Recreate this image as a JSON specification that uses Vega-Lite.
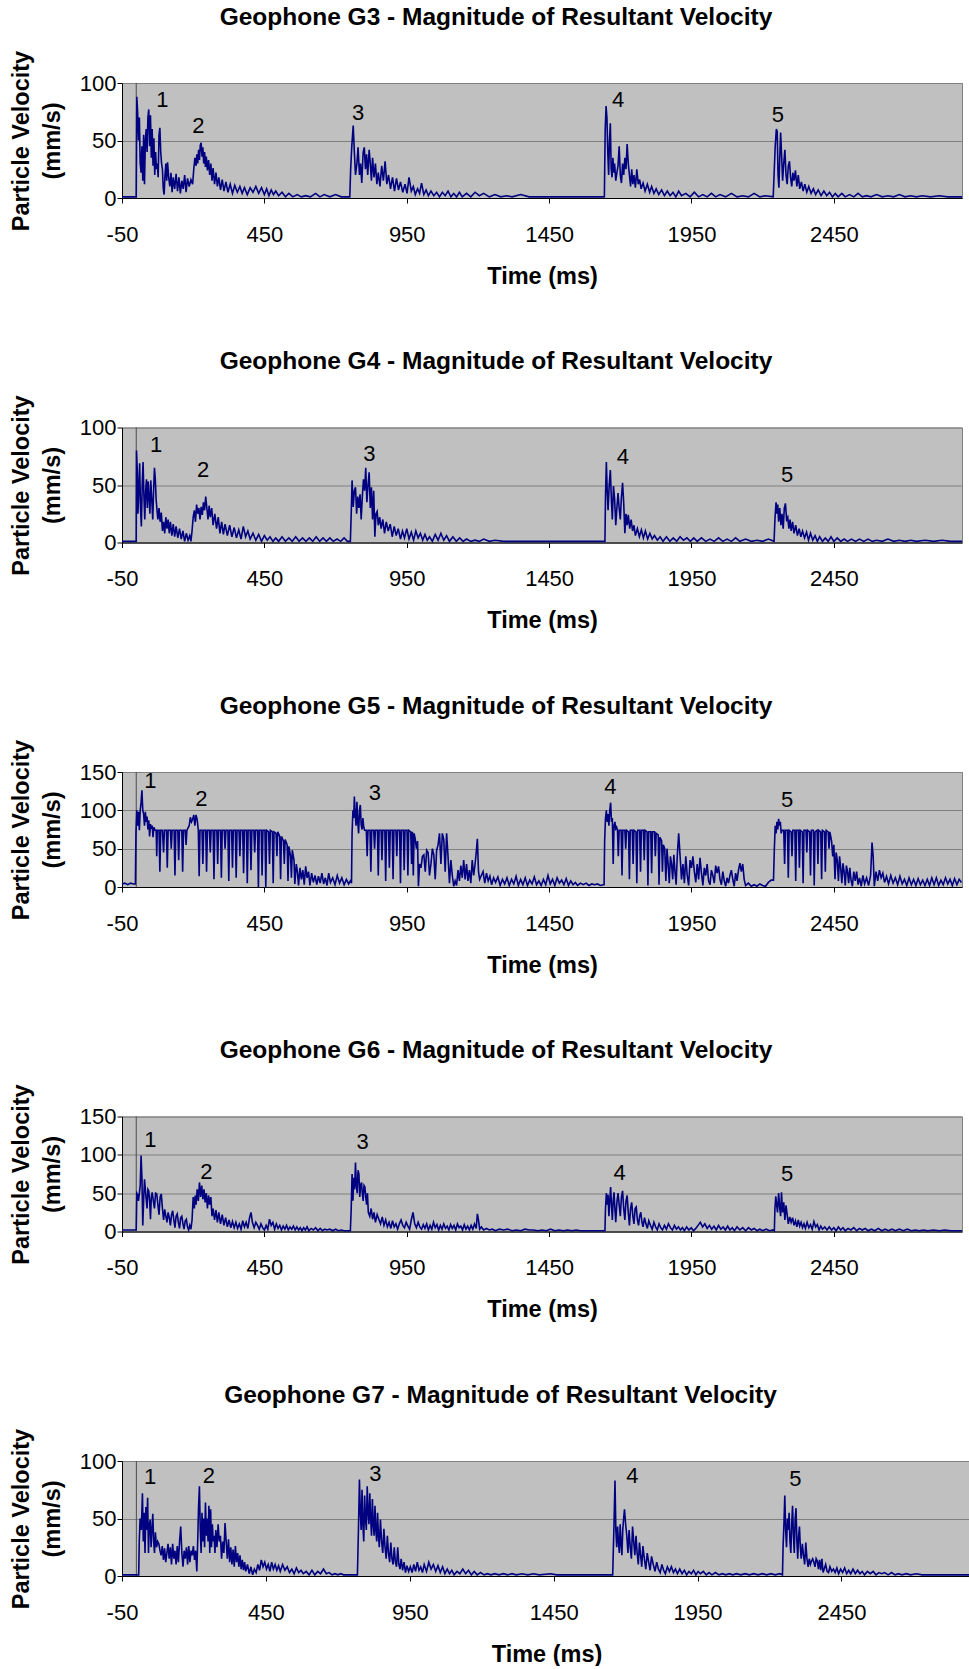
{
"$schema":"https://vega.github.io/schema/vega-lite/v6.json",
"padding":{"left":8,"top":4,"right":0,"bottom":0},
"background":"#ffffff",
"datasets":{
"g3":[{"t":-50,"v":1},{"t":-25,"v":1},{"t":0,"v":1},{"t":2,"v":88},{"t":5,"v":74},{"t":8,"v":50},{"t":11,"v":70},{"t":14,"v":30},{"t":17,"v":22},{"t":20,"v":45},{"t":23,"v":15},{"t":26,"v":55},{"t":29,"v":12},{"t":32,"v":50},{"t":35,"v":60},{"t":38,"v":40},{"t":41,"v":70},{"t":44,"v":77},{"t":47,"v":45},{"t":50,"v":72},{"t":53,"v":35},{"t":56,"v":60},{"t":59,"v":28},{"t":62,"v":52},{"t":65,"v":20},{"t":68,"v":40},{"t":71,"v":25},{"t":74,"v":30},{"t":77,"v":18},{"t":80,"v":55},{"t":83,"v":61},{"t":86,"v":40},{"t":89,"v":30},{"t":92,"v":25},{"t":95,"v":8},{"t":98,"v":3},{"t":101,"v":20},{"t":104,"v":30},{"t":107,"v":15},{"t":110,"v":31},{"t":114,"v":18},{"t":118,"v":10},{"t":122,"v":22},{"t":126,"v":5},{"t":130,"v":18},{"t":135,"v":8},{"t":140,"v":21},{"t":145,"v":6},{"t":150,"v":18},{"t":155,"v":4},{"t":160,"v":15},{"t":165,"v":8},{"t":170,"v":20},{"t":175,"v":5},{"t":180,"v":17},{"t":186,"v":10},{"t":192,"v":16},{"t":198,"v":12},{"t":202,"v":25},{"t":206,"v":35},{"t":210,"v":28},{"t":213,"v":38},{"t":216,"v":30},{"t":219,"v":42},{"t":222,"v":33},{"t":225,"v":46},{"t":228,"v":48},{"t":231,"v":36},{"t":234,"v":44},{"t":237,"v":30},{"t":240,"v":40},{"t":243,"v":27},{"t":246,"v":36},{"t":250,"v":24},{"t":254,"v":33},{"t":258,"v":20},{"t":262,"v":30},{"t":266,"v":15},{"t":270,"v":26},{"t":275,"v":12},{"t":280,"v":22},{"t":285,"v":10},{"t":290,"v":18},{"t":296,"v":7},{"t":302,"v":16},{"t":308,"v":6},{"t":315,"v":14},{"t":322,"v":5},{"t":330,"v":12},{"t":338,"v":4},{"t":346,"v":11},{"t":355,"v":5},{"t":364,"v":10},{"t":372,"v":4},{"t":380,"v":9},{"t":390,"v":3},{"t":400,"v":9},{"t":410,"v":5},{"t":420,"v":10},{"t":430,"v":4},{"t":440,"v":9},{"t":450,"v":3},{"t":458,"v":8},{"t":466,"v":2},{"t":474,"v":7},{"t":482,"v":3},{"t":490,"v":6},{"t":500,"v":2},{"t":512,"v":5},{"t":524,"v":1},{"t":536,"v":4},{"t":550,"v":1},{"t":565,"v":3},{"t":580,"v":1},{"t":595,"v":2},{"t":612,"v":1},{"t":630,"v":4},{"t":645,"v":1},{"t":660,"v":3},{"t":680,"v":1},{"t":700,"v":3},{"t":720,"v":1},{"t":740,"v":1},{"t":750,"v":1},{"t":753,"v":25},{"t":757,"v":45},{"t":762,"v":63},{"t":766,"v":40},{"t":770,"v":20},{"t":775,"v":30},{"t":779,"v":44},{"t":784,"v":20},{"t":788,"v":30},{"t":792,"v":13},{"t":797,"v":40},{"t":801,"v":44},{"t":805,"v":25},{"t":809,"v":38},{"t":813,"v":20},{"t":818,"v":42},{"t":822,"v":30},{"t":826,"v":15},{"t":830,"v":35},{"t":835,"v":18},{"t":840,"v":30},{"t":845,"v":12},{"t":850,"v":22},{"t":856,"v":10},{"t":862,"v":28},{"t":868,"v":15},{"t":874,"v":32},{"t":880,"v":12},{"t":886,"v":20},{"t":893,"v":8},{"t":900,"v":18},{"t":907,"v":6},{"t":914,"v":17},{"t":921,"v":7},{"t":928,"v":14},{"t":936,"v":5},{"t":944,"v":12},{"t":951,"v":4},{"t":958,"v":18},{"t":966,"v":6},{"t":973,"v":10},{"t":980,"v":3},{"t":988,"v":8},{"t":995,"v":4},{"t":1002,"v":13},{"t":1010,"v":3},{"t":1018,"v":7},{"t":1026,"v":2},{"t":1035,"v":6},{"t":1045,"v":2},{"t":1055,"v":5},{"t":1065,"v":1},{"t":1075,"v":5},{"t":1085,"v":2},{"t":1095,"v":6},{"t":1105,"v":1},{"t":1115,"v":4},{"t":1125,"v":1},{"t":1135,"v":5},{"t":1145,"v":1},{"t":1160,"v":4},{"t":1175,"v":1},{"t":1190,"v":5},{"t":1205,"v":2},{"t":1220,"v":4},{"t":1240,"v":1},{"t":1260,"v":3},{"t":1280,"v":1},{"t":1300,"v":2},{"t":1320,"v":1},{"t":1350,"v":3},{"t":1380,"v":1},{"t":1420,"v":1},{"t":1480,"v":1},{"t":1540,"v":1},{"t":1600,"v":1},{"t":1644,"v":1},{"t":1647,"v":60},{"t":1650,"v":80},{"t":1653,"v":70},{"t":1656,"v":40},{"t":1659,"v":20},{"t":1662,"v":50},{"t":1665,"v":65},{"t":1668,"v":25},{"t":1671,"v":18},{"t":1674,"v":35},{"t":1677,"v":22},{"t":1680,"v":30},{"t":1684,"v":15},{"t":1688,"v":22},{"t":1692,"v":28},{"t":1696,"v":45},{"t":1700,"v":20},{"t":1704,"v":13},{"t":1708,"v":30},{"t":1712,"v":20},{"t":1716,"v":35},{"t":1720,"v":25},{"t":1724,"v":47},{"t":1728,"v":30},{"t":1732,"v":20},{"t":1736,"v":10},{"t":1740,"v":25},{"t":1744,"v":12},{"t":1748,"v":20},{"t":1753,"v":9},{"t":1758,"v":25},{"t":1763,"v":12},{"t":1768,"v":16},{"t":1773,"v":8},{"t":1780,"v":13},{"t":1787,"v":6},{"t":1795,"v":12},{"t":1803,"v":5},{"t":1810,"v":10},{"t":1818,"v":4},{"t":1826,"v":8},{"t":1835,"v":3},{"t":1845,"v":7},{"t":1855,"v":2},{"t":1865,"v":6},{"t":1875,"v":2},{"t":1885,"v":5},{"t":1895,"v":1},{"t":1905,"v":6},{"t":1915,"v":2},{"t":1930,"v":4},{"t":1945,"v":1},{"t":1960,"v":5},{"t":1975,"v":1},{"t":1990,"v":3},{"t":2005,"v":1},{"t":2020,"v":4},{"t":2035,"v":1},{"t":2050,"v":3},{"t":2070,"v":1},{"t":2090,"v":4},{"t":2110,"v":1},{"t":2130,"v":2},{"t":2150,"v":1},{"t":2170,"v":4},{"t":2190,"v":1},{"t":2210,"v":2},{"t":2237,"v":1},{"t":2240,"v":20},{"t":2244,"v":45},{"t":2248,"v":60},{"t":2251,"v":58},{"t":2254,"v":20},{"t":2257,"v":9},{"t":2260,"v":35},{"t":2263,"v":57},{"t":2266,"v":40},{"t":2270,"v":15},{"t":2274,"v":30},{"t":2278,"v":42},{"t":2282,"v":20},{"t":2286,"v":12},{"t":2290,"v":28},{"t":2294,"v":32},{"t":2298,"v":18},{"t":2302,"v":10},{"t":2306,"v":22},{"t":2310,"v":15},{"t":2315,"v":24},{"t":2320,"v":10},{"t":2325,"v":20},{"t":2330,"v":8},{"t":2336,"v":14},{"t":2342,"v":6},{"t":2348,"v":12},{"t":2355,"v":5},{"t":2362,"v":10},{"t":2370,"v":4},{"t":2378,"v":8},{"t":2386,"v":3},{"t":2395,"v":7},{"t":2405,"v":2},{"t":2415,"v":6},{"t":2425,"v":2},{"t":2435,"v":5},{"t":2445,"v":1},{"t":2455,"v":4},{"t":2465,"v":1},{"t":2478,"v":4},{"t":2490,"v":1},{"t":2505,"v":3},{"t":2520,"v":1},{"t":2535,"v":4},{"t":2550,"v":1},{"t":2565,"v":2},{"t":2580,"v":1},{"t":2600,"v":3},{"t":2620,"v":1},{"t":2640,"v":2},{"t":2660,"v":1},{"t":2680,"v":3},{"t":2700,"v":1},{"t":2720,"v":2},{"t":2740,"v":1},{"t":2760,"v":2},{"t":2790,"v":1},{"t":2820,"v":2},{"t":2850,"v":1},{"t":2900,"v":1}],
"g4":[{"t":-50,"v":1},{"t":-20,"v":1},{"t":0,"v":1},{"t":1,"v":80},{"t":4,"v":60},{"t":6,"v":25},{"t":9,"v":45},{"t":12,"v":69},{"t":15,"v":30},{"t":18,"v":14},{"t":21,"v":50},{"t":24,"v":70},{"t":27,"v":40},{"t":30,"v":20},{"t":33,"v":45},{"t":36,"v":55},{"t":39,"v":30},{"t":42,"v":53},{"t":45,"v":40},{"t":48,"v":25},{"t":51,"v":54},{"t":55,"v":35},{"t":58,"v":20},{"t":61,"v":45},{"t":64,"v":65},{"t":67,"v":55},{"t":70,"v":37},{"t":73,"v":28},{"t":76,"v":20},{"t":80,"v":30},{"t":84,"v":18},{"t":88,"v":26},{"t":92,"v":10},{"t":96,"v":18},{"t":100,"v":8},{"t":104,"v":22},{"t":108,"v":12},{"t":112,"v":20},{"t":116,"v":8},{"t":120,"v":18},{"t":125,"v":6},{"t":130,"v":16},{"t":135,"v":5},{"t":140,"v":14},{"t":146,"v":4},{"t":152,"v":12},{"t":158,"v":3},{"t":164,"v":10},{"t":170,"v":1},{"t":176,"v":8},{"t":182,"v":2},{"t":188,"v":6},{"t":192,"v":1},{"t":196,"v":10},{"t":200,"v":22},{"t":204,"v":28},{"t":208,"v":18},{"t":212,"v":33},{"t":216,"v":25},{"t":220,"v":30},{"t":224,"v":20},{"t":228,"v":31},{"t":232,"v":24},{"t":236,"v":35},{"t":240,"v":28},{"t":244,"v":40},{"t":248,"v":30},{"t":252,"v":20},{"t":256,"v":32},{"t":260,"v":22},{"t":265,"v":30},{"t":270,"v":15},{"t":276,"v":25},{"t":282,"v":12},{"t":288,"v":22},{"t":294,"v":8},{"t":300,"v":18},{"t":306,"v":7},{"t":312,"v":16},{"t":320,"v":6},{"t":328,"v":15},{"t":336,"v":5},{"t":344,"v":13},{"t":352,"v":4},{"t":360,"v":11},{"t":368,"v":3},{"t":376,"v":14},{"t":384,"v":5},{"t":392,"v":10},{"t":400,"v":3},{"t":410,"v":8},{"t":420,"v":2},{"t":430,"v":7},{"t":440,"v":1},{"t":450,"v":6},{"t":460,"v":2},{"t":470,"v":5},{"t":480,"v":1},{"t":490,"v":4},{"t":500,"v":1},{"t":512,"v":5},{"t":524,"v":1},{"t":536,"v":4},{"t":548,"v":1},{"t":560,"v":5},{"t":572,"v":1},{"t":584,"v":4},{"t":596,"v":1},{"t":608,"v":4},{"t":620,"v":1},{"t":632,"v":5},{"t":644,"v":1},{"t":656,"v":4},{"t":668,"v":1},{"t":680,"v":4},{"t":692,"v":1},{"t":705,"v":3},{"t":718,"v":1},{"t":730,"v":4},{"t":742,"v":1},{"t":752,"v":1},{"t":755,"v":25},{"t":758,"v":54},{"t":762,"v":31},{"t":766,"v":45},{"t":770,"v":48},{"t":774,"v":25},{"t":778,"v":40},{"t":782,"v":30},{"t":786,"v":42},{"t":790,"v":20},{"t":794,"v":40},{"t":798,"v":55},{"t":802,"v":45},{"t":806,"v":65},{"t":810,"v":35},{"t":814,"v":50},{"t":818,"v":61},{"t":822,"v":30},{"t":826,"v":48},{"t":830,"v":20},{"t":834,"v":45},{"t":838,"v":5},{"t":842,"v":25},{"t":846,"v":27},{"t":850,"v":15},{"t":855,"v":22},{"t":860,"v":12},{"t":866,"v":20},{"t":872,"v":8},{"t":878,"v":18},{"t":885,"v":10},{"t":892,"v":16},{"t":899,"v":5},{"t":906,"v":14},{"t":913,"v":6},{"t":920,"v":12},{"t":928,"v":3},{"t":935,"v":10},{"t":942,"v":4},{"t":950,"v":12},{"t":958,"v":3},{"t":966,"v":9},{"t":974,"v":2},{"t":982,"v":10},{"t":990,"v":4},{"t":998,"v":8},{"t":1006,"v":2},{"t":1014,"v":7},{"t":1022,"v":2},{"t":1030,"v":5},{"t":1040,"v":1},{"t":1050,"v":7},{"t":1060,"v":2},{"t":1070,"v":8},{"t":1080,"v":2},{"t":1090,"v":6},{"t":1100,"v":1},{"t":1112,"v":5},{"t":1124,"v":1},{"t":1136,"v":4},{"t":1148,"v":1},{"t":1160,"v":3},{"t":1175,"v":1},{"t":1190,"v":2},{"t":1205,"v":1},{"t":1220,"v":3},{"t":1240,"v":1},{"t":1260,"v":2},{"t":1290,"v":1},{"t":1340,"v":1},{"t":1400,"v":1},{"t":1460,"v":1},{"t":1520,"v":1},{"t":1580,"v":1},{"t":1646,"v":1},{"t":1648,"v":40},{"t":1651,"v":70},{"t":1654,"v":45},{"t":1657,"v":28},{"t":1661,"v":50},{"t":1665,"v":63},{"t":1669,"v":35},{"t":1672,"v":20},{"t":1676,"v":49},{"t":1680,"v":38},{"t":1684,"v":15},{"t":1688,"v":30},{"t":1692,"v":43},{"t":1696,"v":30},{"t":1700,"v":20},{"t":1704,"v":40},{"t":1708,"v":52},{"t":1712,"v":34},{"t":1716,"v":8},{"t":1720,"v":25},{"t":1724,"v":15},{"t":1728,"v":24},{"t":1733,"v":12},{"t":1738,"v":20},{"t":1743,"v":10},{"t":1748,"v":15},{"t":1753,"v":6},{"t":1760,"v":12},{"t":1767,"v":5},{"t":1774,"v":11},{"t":1781,"v":4},{"t":1788,"v":10},{"t":1796,"v":3},{"t":1804,"v":8},{"t":1812,"v":3},{"t":1820,"v":6},{"t":1830,"v":2},{"t":1840,"v":5},{"t":1850,"v":1},{"t":1862,"v":5},{"t":1874,"v":1},{"t":1886,"v":4},{"t":1898,"v":1},{"t":1910,"v":5},{"t":1922,"v":2},{"t":1934,"v":4},{"t":1946,"v":1},{"t":1958,"v":4},{"t":1970,"v":1},{"t":1985,"v":4},{"t":2000,"v":1},{"t":2015,"v":3},{"t":2030,"v":1},{"t":2045,"v":4},{"t":2060,"v":1},{"t":2075,"v":3},{"t":2090,"v":1},{"t":2105,"v":4},{"t":2120,"v":1},{"t":2140,"v":3},{"t":2160,"v":1},{"t":2180,"v":2},{"t":2200,"v":1},{"t":2220,"v":3},{"t":2240,"v":1},{"t":2243,"v":20},{"t":2247,"v":35},{"t":2250,"v":25},{"t":2253,"v":33},{"t":2256,"v":18},{"t":2260,"v":30},{"t":2264,"v":15},{"t":2268,"v":25},{"t":2272,"v":12},{"t":2276,"v":30},{"t":2280,"v":34},{"t":2284,"v":20},{"t":2288,"v":22},{"t":2292,"v":12},{"t":2296,"v":20},{"t":2300,"v":10},{"t":2305,"v":18},{"t":2310,"v":8},{"t":2316,"v":15},{"t":2322,"v":6},{"t":2328,"v":12},{"t":2334,"v":5},{"t":2340,"v":10},{"t":2347,"v":4},{"t":2354,"v":9},{"t":2361,"v":2},{"t":2368,"v":8},{"t":2376,"v":2},{"t":2384,"v":6},{"t":2392,"v":1},{"t":2400,"v":5},{"t":2410,"v":1},{"t":2420,"v":4},{"t":2430,"v":1},{"t":2440,"v":5},{"t":2450,"v":1},{"t":2462,"v":4},{"t":2474,"v":1},{"t":2486,"v":3},{"t":2498,"v":1},{"t":2512,"v":3},{"t":2526,"v":1},{"t":2540,"v":3},{"t":2555,"v":1},{"t":2570,"v":3},{"t":2585,"v":1},{"t":2600,"v":2},{"t":2620,"v":1},{"t":2640,"v":3},{"t":2660,"v":1},{"t":2680,"v":2},{"t":2700,"v":1},{"t":2720,"v":2},{"t":2740,"v":1},{"t":2770,"v":2},{"t":2800,"v":1},{"t":2830,"v":2},{"t":2860,"v":1},{"t":2900,"v":1}],
"g5":[{"t":-50,"v":4},{"t":-40,"v":5},{"t":-30,"v":3},{"t":-20,"v":5},{"t":-10,"v":4},{"t":-3,"v":4},{"t":-1,"v":70},{"t":2,"v":100},{"t":5,"v":80},{"t":8,"v":98},{"t":11,"v":74},{"t":14,"v":100},{"t":17,"v":110},{"t":20,"v":126},{"t":23,"v":100},{"t":26,"v":95},{"t":29,"v":80},{"t":32,"v":98},{"t":35,"v":85},{"t":38,"v":92},{"t":41,"v":75},{"t":44,"v":87},{"t":47,"v":66},{"t":50,"v":82},{"t":53,"v":76},{"t":56,"v":80},{"t":59,"v":65},{"t":62,"v":78},{"t":66,"v":74},{"t":70,"v":74},{"t":72,"v":40},{"t":74,"v":74},{"t":80,"v":74},{"t":83,"v":20},{"t":86,"v":74},{"t":92,"v":74},{"t":96,"v":45},{"t":99,"v":74},{"t":106,"v":74},{"t":109,"v":25},{"t":112,"v":74},{"t":120,"v":74},{"t":123,"v":50},{"t":126,"v":74},{"t":133,"v":74},{"t":136,"v":15},{"t":139,"v":74},{"t":146,"v":74},{"t":149,"v":35},{"t":152,"v":74},{"t":160,"v":74},{"t":163,"v":20},{"t":166,"v":74},{"t":172,"v":74},{"t":175,"v":55},{"t":178,"v":74},{"t":186,"v":80},{"t":190,"v":91},{"t":194,"v":85},{"t":198,"v":88},{"t":202,"v":94},{"t":206,"v":80},{"t":210,"v":94},{"t":214,"v":88},{"t":218,"v":74},{"t":221,"v":14},{"t":224,"v":74},{"t":231,"v":74},{"t":234,"v":30},{"t":237,"v":74},{"t":244,"v":74},{"t":247,"v":20},{"t":250,"v":74},{"t":257,"v":74},{"t":260,"v":45},{"t":263,"v":74},{"t":270,"v":74},{"t":273,"v":10},{"t":276,"v":74},{"t":283,"v":74},{"t":286,"v":30},{"t":289,"v":74},{"t":296,"v":74},{"t":299,"v":12},{"t":302,"v":74},{"t":309,"v":74},{"t":312,"v":50},{"t":315,"v":74},{"t":322,"v":74},{"t":325,"v":8},{"t":328,"v":74},{"t":335,"v":74},{"t":338,"v":25},{"t":341,"v":74},{"t":348,"v":74},{"t":351,"v":12},{"t":354,"v":74},{"t":361,"v":74},{"t":364,"v":40},{"t":367,"v":74},{"t":374,"v":74},{"t":377,"v":18},{"t":380,"v":74},{"t":387,"v":74},{"t":390,"v":5},{"t":393,"v":74},{"t":400,"v":74},{"t":403,"v":22},{"t":406,"v":74},{"t":413,"v":74},{"t":416,"v":45},{"t":419,"v":74},{"t":426,"v":74},{"t":429,"v":0},{"t":432,"v":74},{"t":439,"v":74},{"t":442,"v":15},{"t":445,"v":74},{"t":452,"v":74},{"t":455,"v":0},{"t":458,"v":74},{"t":465,"v":72},{"t":468,"v":30},{"t":471,"v":74},{"t":478,"v":72},{"t":481,"v":5},{"t":484,"v":72},{"t":491,"v":70},{"t":494,"v":40},{"t":497,"v":72},{"t":504,"v":66},{"t":507,"v":10},{"t":510,"v":66},{"t":517,"v":60},{"t":520,"v":30},{"t":523,"v":62},{"t":530,"v":55},{"t":533,"v":8},{"t":536,"v":53},{"t":542,"v":40},{"t":545,"v":12},{"t":548,"v":48},{"t":554,"v":35},{"t":557,"v":4},{"t":562,"v":30},{"t":566,"v":20},{"t":570,"v":2},{"t":575,"v":25},{"t":580,"v":10},{"t":585,"v":22},{"t":590,"v":3},{"t":595,"v":27},{"t":600,"v":12},{"t":605,"v":20},{"t":610,"v":2},{"t":616,"v":18},{"t":622,"v":6},{"t":628,"v":15},{"t":634,"v":3},{"t":640,"v":14},{"t":646,"v":5},{"t":652,"v":18},{"t":658,"v":4},{"t":664,"v":12},{"t":670,"v":2},{"t":676,"v":18},{"t":682,"v":6},{"t":690,"v":12},{"t":698,"v":3},{"t":706,"v":15},{"t":714,"v":5},{"t":722,"v":12},{"t":730,"v":3},{"t":738,"v":10},{"t":746,"v":4},{"t":752,"v":8},{"t":756,"v":5},{"t":758,"v":70},{"t":761,"v":100},{"t":764,"v":90},{"t":766,"v":118},{"t":769,"v":95},{"t":772,"v":80},{"t":775,"v":111},{"t":778,"v":85},{"t":781,"v":70},{"t":784,"v":100},{"t":787,"v":107},{"t":790,"v":81},{"t":793,"v":75},{"t":796,"v":90},{"t":799,"v":78},{"t":802,"v":74},{"t":808,"v":74},{"t":811,"v":40},{"t":814,"v":74},{"t":821,"v":74},{"t":824,"v":20},{"t":827,"v":74},{"t":834,"v":74},{"t":837,"v":50},{"t":840,"v":74},{"t":847,"v":74},{"t":850,"v":15},{"t":853,"v":74},{"t":860,"v":74},{"t":863,"v":35},{"t":866,"v":74},{"t":873,"v":74},{"t":876,"v":8},{"t":879,"v":74},{"t":886,"v":74},{"t":889,"v":25},{"t":892,"v":74},{"t":899,"v":74},{"t":902,"v":10},{"t":905,"v":74},{"t":912,"v":74},{"t":915,"v":40},{"t":918,"v":74},{"t":925,"v":74},{"t":928,"v":5},{"t":931,"v":74},{"t":938,"v":74},{"t":941,"v":22},{"t":944,"v":74},{"t":951,"v":74},{"t":954,"v":15},{"t":957,"v":74},{"t":964,"v":72},{"t":967,"v":30},{"t":970,"v":72},{"t":973,"v":15},{"t":976,"v":70},{"t":980,"v":62},{"t":984,"v":50},{"t":988,"v":60},{"t":991,"v":1},{"t":995,"v":30},{"t":1000,"v":25},{"t":1005,"v":40},{"t":1010,"v":42},{"t":1015,"v":20},{"t":1020,"v":48},{"t":1025,"v":45},{"t":1030,"v":15},{"t":1035,"v":30},{"t":1040,"v":50},{"t":1045,"v":42},{"t":1050,"v":10},{"t":1055,"v":48},{"t":1060,"v":55},{"t":1065,"v":70},{"t":1070,"v":30},{"t":1075,"v":70},{"t":1080,"v":62},{"t":1085,"v":20},{"t":1090,"v":70},{"t":1095,"v":40},{"t":1100,"v":5},{"t":1105,"v":35},{"t":1110,"v":15},{"t":1115,"v":1},{"t":1120,"v":8},{"t":1125,"v":2},{"t":1130,"v":22},{"t":1135,"v":8},{"t":1140,"v":28},{"t":1145,"v":12},{"t":1150,"v":35},{"t":1155,"v":10},{"t":1160,"v":30},{"t":1165,"v":8},{"t":1170,"v":22},{"t":1175,"v":5},{"t":1180,"v":35},{"t":1185,"v":15},{"t":1190,"v":30},{"t":1194,"v":45},{"t":1198,"v":63},{"t":1202,"v":20},{"t":1206,"v":10},{"t":1212,"v":15},{"t":1218,"v":20},{"t":1224,"v":5},{"t":1230,"v":18},{"t":1236,"v":8},{"t":1242,"v":14},{"t":1248,"v":3},{"t":1255,"v":12},{"t":1262,"v":6},{"t":1270,"v":13},{"t":1278,"v":2},{"t":1286,"v":10},{"t":1294,"v":4},{"t":1302,"v":12},{"t":1310,"v":2},{"t":1318,"v":10},{"t":1326,"v":4},{"t":1334,"v":14},{"t":1342,"v":2},{"t":1350,"v":10},{"t":1358,"v":3},{"t":1366,"v":12},{"t":1374,"v":2},{"t":1382,"v":9},{"t":1390,"v":4},{"t":1398,"v":13},{"t":1406,"v":3},{"t":1414,"v":8},{"t":1422,"v":2},{"t":1430,"v":10},{"t":1438,"v":3},{"t":1446,"v":15},{"t":1454,"v":4},{"t":1462,"v":10},{"t":1470,"v":2},{"t":1478,"v":12},{"t":1486,"v":5},{"t":1494,"v":9},{"t":1502,"v":3},{"t":1510,"v":11},{"t":1518,"v":2},{"t":1526,"v":8},{"t":1534,"v":3},{"t":1542,"v":6},{"t":1550,"v":2},{"t":1560,"v":5},{"t":1570,"v":3},{"t":1580,"v":5},{"t":1590,"v":2},{"t":1600,"v":4},{"t":1610,"v":3},{"t":1620,"v":4},{"t":1630,"v":2},{"t":1640,"v":3},{"t":1643,"v":3},{"t":1645,"v":60},{"t":1648,"v":90},{"t":1651,"v":100},{"t":1654,"v":85},{"t":1657,"v":95},{"t":1660,"v":80},{"t":1663,"v":100},{"t":1666,"v":110},{"t":1669,"v":85},{"t":1672,"v":90},{"t":1675,"v":30},{"t":1678,"v":80},{"t":1681,"v":85},{"t":1684,"v":76},{"t":1687,"v":78},{"t":1690,"v":74},{"t":1693,"v":40},{"t":1696,"v":74},{"t":1703,"v":74},{"t":1706,"v":15},{"t":1709,"v":74},{"t":1716,"v":74},{"t":1719,"v":50},{"t":1722,"v":74},{"t":1729,"v":72},{"t":1732,"v":10},{"t":1735,"v":74},{"t":1742,"v":74},{"t":1745,"v":30},{"t":1748,"v":74},{"t":1755,"v":72},{"t":1758,"v":5},{"t":1761,"v":74},{"t":1768,"v":74},{"t":1771,"v":20},{"t":1774,"v":74},{"t":1781,"v":74},{"t":1784,"v":35},{"t":1787,"v":74},{"t":1794,"v":72},{"t":1797,"v":2},{"t":1800,"v":72},{"t":1807,"v":72},{"t":1810,"v":18},{"t":1813,"v":72},{"t":1820,"v":72},{"t":1823,"v":40},{"t":1826,"v":70},{"t":1833,"v":68},{"t":1836,"v":3},{"t":1839,"v":65},{"t":1845,"v":60},{"t":1848,"v":20},{"t":1851,"v":55},{"t":1856,"v":50},{"t":1860,"v":8},{"t":1864,"v":50},{"t":1868,"v":30},{"t":1872,"v":5},{"t":1876,"v":40},{"t":1880,"v":30},{"t":1884,"v":10},{"t":1888,"v":42},{"t":1892,"v":20},{"t":1896,"v":3},{"t":1900,"v":40},{"t":1905,"v":70},{"t":1910,"v":40},{"t":1915,"v":10},{"t":1920,"v":30},{"t":1925,"v":5},{"t":1930,"v":40},{"t":1935,"v":15},{"t":1940,"v":2},{"t":1945,"v":35},{"t":1950,"v":25},{"t":1955,"v":40},{"t":1960,"v":20},{"t":1965,"v":6},{"t":1970,"v":30},{"t":1975,"v":10},{"t":1980,"v":38},{"t":1985,"v":18},{"t":1990,"v":2},{"t":1995,"v":25},{"t":2000,"v":15},{"t":2005,"v":30},{"t":2010,"v":8},{"t":2015,"v":3},{"t":2020,"v":22},{"t":2025,"v":15},{"t":2030,"v":5},{"t":2035,"v":28},{"t":2040,"v":18},{"t":2045,"v":27},{"t":2050,"v":10},{"t":2055,"v":3},{"t":2060,"v":20},{"t":2065,"v":8},{"t":2070,"v":1},{"t":2075,"v":12},{"t":2080,"v":5},{"t":2085,"v":15},{"t":2090,"v":22},{"t":2095,"v":10},{"t":2100,"v":1},{"t":2105,"v":18},{"t":2110,"v":8},{"t":2115,"v":22},{"t":2120,"v":31},{"t":2125,"v":20},{"t":2130,"v":30},{"t":2135,"v":10},{"t":2140,"v":2},{"t":2150,"v":5},{"t":2160,"v":1},{"t":2170,"v":3},{"t":2180,"v":1},{"t":2190,"v":4},{"t":2200,"v":2},{"t":2210,"v":1},{"t":2220,"v":6},{"t":2230,"v":9},{"t":2238,"v":9},{"t":2241,"v":50},{"t":2244,"v":80},{"t":2247,"v":70},{"t":2250,"v":85},{"t":2253,"v":75},{"t":2256,"v":89},{"t":2259,"v":80},{"t":2262,"v":85},{"t":2265,"v":70},{"t":2268,"v":74},{"t":2274,"v":74},{"t":2277,"v":30},{"t":2280,"v":74},{"t":2287,"v":74},{"t":2290,"v":12},{"t":2293,"v":74},{"t":2300,"v":72},{"t":2303,"v":40},{"t":2306,"v":74},{"t":2313,"v":74},{"t":2316,"v":8},{"t":2319,"v":74},{"t":2326,"v":74},{"t":2329,"v":25},{"t":2332,"v":74},{"t":2339,"v":72},{"t":2342,"v":5},{"t":2345,"v":74},{"t":2352,"v":74},{"t":2355,"v":45},{"t":2358,"v":74},{"t":2365,"v":72},{"t":2368,"v":15},{"t":2371,"v":74},{"t":2378,"v":74},{"t":2381,"v":2},{"t":2384,"v":72},{"t":2391,"v":74},{"t":2394,"v":30},{"t":2397,"v":74},{"t":2404,"v":72},{"t":2407,"v":10},{"t":2410,"v":74},{"t":2417,"v":72},{"t":2420,"v":20},{"t":2423,"v":74},{"t":2430,"v":72},{"t":2433,"v":50},{"t":2436,"v":72},{"t":2442,"v":60},{"t":2446,"v":40},{"t":2450,"v":55},{"t":2454,"v":10},{"t":2458,"v":45},{"t":2462,"v":35},{"t":2466,"v":8},{"t":2470,"v":40},{"t":2474,"v":25},{"t":2478,"v":5},{"t":2482,"v":31},{"t":2486,"v":20},{"t":2490,"v":2},{"t":2494,"v":28},{"t":2498,"v":20},{"t":2502,"v":5},{"t":2506,"v":25},{"t":2510,"v":10},{"t":2515,"v":1},{"t":2520,"v":20},{"t":2525,"v":8},{"t":2530,"v":20},{"t":2535,"v":3},{"t":2540,"v":12},{"t":2546,"v":1},{"t":2552,"v":15},{"t":2558,"v":4},{"t":2565,"v":12},{"t":2572,"v":2},{"t":2579,"v":15},{"t":2584,"v":58},{"t":2588,"v":40},{"t":2592,"v":1},{"t":2598,"v":20},{"t":2604,"v":8},{"t":2610,"v":22},{"t":2616,"v":12},{"t":2622,"v":18},{"t":2628,"v":6},{"t":2635,"v":14},{"t":2642,"v":4},{"t":2650,"v":15},{"t":2658,"v":5},{"t":2666,"v":12},{"t":2674,"v":3},{"t":2682,"v":14},{"t":2690,"v":4},{"t":2698,"v":10},{"t":2706,"v":2},{"t":2714,"v":12},{"t":2722,"v":3},{"t":2730,"v":10},{"t":2738,"v":2},{"t":2746,"v":11},{"t":2754,"v":3},{"t":2762,"v":9},{"t":2770,"v":2},{"t":2778,"v":10},{"t":2786,"v":2},{"t":2794,"v":12},{"t":2802,"v":3},{"t":2810,"v":12},{"t":2818,"v":2},{"t":2826,"v":9},{"t":2834,"v":3},{"t":2842,"v":12},{"t":2850,"v":4},{"t":2858,"v":10},{"t":2866,"v":2},{"t":2874,"v":11},{"t":2882,"v":3},{"t":2890,"v":10},{"t":2898,"v":6}],
"g6":[{"t":-50,"v":2},{"t":-30,"v":2},{"t":-10,"v":2},{"t":0,"v":2},{"t":2,"v":50},{"t":5,"v":48},{"t":8,"v":40},{"t":11,"v":50},{"t":14,"v":60},{"t":17,"v":99},{"t":20,"v":70},{"t":23,"v":8},{"t":26,"v":40},{"t":29,"v":68},{"t":32,"v":55},{"t":35,"v":42},{"t":38,"v":30},{"t":41,"v":55},{"t":44,"v":53},{"t":47,"v":40},{"t":50,"v":16},{"t":53,"v":45},{"t":56,"v":51},{"t":60,"v":40},{"t":64,"v":30},{"t":68,"v":50},{"t":72,"v":49},{"t":76,"v":35},{"t":80,"v":22},{"t":84,"v":45},{"t":88,"v":49},{"t":92,"v":30},{"t":96,"v":15},{"t":100,"v":29},{"t":104,"v":20},{"t":108,"v":12},{"t":112,"v":25},{"t":116,"v":18},{"t":120,"v":8},{"t":124,"v":22},{"t":128,"v":27},{"t":132,"v":15},{"t":136,"v":5},{"t":140,"v":20},{"t":144,"v":23},{"t":148,"v":12},{"t":152,"v":4},{"t":156,"v":18},{"t":160,"v":20},{"t":164,"v":10},{"t":168,"v":3},{"t":172,"v":14},{"t":176,"v":16},{"t":180,"v":6},{"t":184,"v":2},{"t":188,"v":8},{"t":192,"v":3},{"t":196,"v":15},{"t":200,"v":45},{"t":204,"v":30},{"t":207,"v":47},{"t":210,"v":35},{"t":214,"v":55},{"t":218,"v":40},{"t":222,"v":64},{"t":226,"v":45},{"t":230,"v":60},{"t":234,"v":42},{"t":238,"v":55},{"t":242,"v":38},{"t":246,"v":50},{"t":250,"v":30},{"t":254,"v":47},{"t":258,"v":35},{"t":262,"v":45},{"t":266,"v":20},{"t":270,"v":30},{"t":275,"v":15},{"t":280,"v":28},{"t":285,"v":12},{"t":290,"v":25},{"t":296,"v":10},{"t":302,"v":22},{"t":308,"v":8},{"t":314,"v":18},{"t":320,"v":6},{"t":326,"v":15},{"t":332,"v":5},{"t":338,"v":13},{"t":344,"v":5},{"t":350,"v":12},{"t":356,"v":4},{"t":362,"v":10},{"t":368,"v":3},{"t":374,"v":14},{"t":380,"v":6},{"t":386,"v":12},{"t":392,"v":4},{"t":398,"v":18},{"t":403,"v":25},{"t":408,"v":12},{"t":414,"v":5},{"t":420,"v":12},{"t":426,"v":8},{"t":432,"v":3},{"t":438,"v":10},{"t":444,"v":5},{"t":450,"v":2},{"t":456,"v":8},{"t":462,"v":3},{"t":468,"v":16},{"t":474,"v":8},{"t":480,"v":12},{"t":486,"v":3},{"t":492,"v":10},{"t":498,"v":4},{"t":504,"v":8},{"t":510,"v":2},{"t":516,"v":7},{"t":522,"v":3},{"t":528,"v":8},{"t":534,"v":2},{"t":540,"v":6},{"t":546,"v":3},{"t":552,"v":7},{"t":558,"v":2},{"t":564,"v":6},{"t":570,"v":2},{"t":576,"v":5},{"t":582,"v":1},{"t":588,"v":5},{"t":594,"v":2},{"t":600,"v":6},{"t":606,"v":1},{"t":614,"v":4},{"t":622,"v":2},{"t":630,"v":5},{"t":638,"v":1},{"t":646,"v":4},{"t":654,"v":1},{"t":662,"v":3},{"t":670,"v":2},{"t":680,"v":3},{"t":690,"v":1},{"t":700,"v":3},{"t":710,"v":1},{"t":720,"v":2},{"t":730,"v":1},{"t":752,"v":1},{"t":755,"v":30},{"t":758,"v":75},{"t":761,"v":40},{"t":764,"v":70},{"t":767,"v":55},{"t":770,"v":90},{"t":773,"v":60},{"t":776,"v":50},{"t":779,"v":80},{"t":782,"v":75},{"t":785,"v":45},{"t":788,"v":60},{"t":791,"v":64},{"t":794,"v":50},{"t":797,"v":40},{"t":800,"v":60},{"t":803,"v":58},{"t":806,"v":45},{"t":809,"v":35},{"t":812,"v":50},{"t":815,"v":25},{"t":820,"v":20},{"t":825,"v":30},{"t":830,"v":16},{"t":835,"v":25},{"t":840,"v":12},{"t":846,"v":22},{"t":852,"v":16},{"t":858,"v":10},{"t":864,"v":19},{"t":870,"v":8},{"t":876,"v":15},{"t":882,"v":6},{"t":888,"v":12},{"t":894,"v":4},{"t":900,"v":14},{"t":906,"v":6},{"t":912,"v":10},{"t":918,"v":3},{"t":924,"v":10},{"t":930,"v":15},{"t":936,"v":8},{"t":942,"v":5},{"t":948,"v":12},{"t":954,"v":7},{"t":960,"v":3},{"t":966,"v":15},{"t":972,"v":25},{"t":978,"v":10},{"t":984,"v":5},{"t":990,"v":12},{"t":996,"v":6},{"t":1002,"v":3},{"t":1008,"v":9},{"t":1014,"v":4},{"t":1020,"v":10},{"t":1026,"v":2},{"t":1032,"v":8},{"t":1038,"v":3},{"t":1044,"v":12},{"t":1050,"v":5},{"t":1056,"v":9},{"t":1062,"v":2},{"t":1068,"v":8},{"t":1074,"v":3},{"t":1080,"v":10},{"t":1086,"v":4},{"t":1092,"v":7},{"t":1098,"v":2},{"t":1104,"v":9},{"t":1110,"v":4},{"t":1116,"v":8},{"t":1122,"v":2},{"t":1128,"v":10},{"t":1134,"v":5},{"t":1140,"v":7},{"t":1146,"v":2},{"t":1152,"v":9},{"t":1158,"v":3},{"t":1164,"v":7},{"t":1170,"v":2},{"t":1176,"v":8},{"t":1182,"v":3},{"t":1188,"v":10},{"t":1194,"v":4},{"t":1198,"v":23},{"t":1202,"v":15},{"t":1206,"v":3},{"t":1212,"v":6},{"t":1220,"v":2},{"t":1230,"v":4},{"t":1240,"v":2},{"t":1250,"v":3},{"t":1262,"v":1},{"t":1275,"v":3},{"t":1290,"v":2},{"t":1305,"v":3},{"t":1320,"v":1},{"t":1335,"v":2},{"t":1350,"v":1},{"t":1365,"v":3},{"t":1380,"v":2},{"t":1395,"v":2},{"t":1410,"v":1},{"t":1425,"v":2},{"t":1440,"v":1},{"t":1455,"v":3},{"t":1470,"v":1},{"t":1485,"v":2},{"t":1500,"v":1},{"t":1515,"v":2},{"t":1530,"v":1},{"t":1545,"v":2},{"t":1560,"v":1},{"t":1590,"v":1},{"t":1620,"v":1},{"t":1646,"v":1},{"t":1648,"v":30},{"t":1651,"v":50},{"t":1654,"v":35},{"t":1657,"v":48},{"t":1660,"v":20},{"t":1663,"v":40},{"t":1666,"v":58},{"t":1669,"v":35},{"t":1672,"v":15},{"t":1675,"v":40},{"t":1678,"v":51},{"t":1681,"v":30},{"t":1684,"v":12},{"t":1688,"v":38},{"t":1692,"v":50},{"t":1696,"v":35},{"t":1700,"v":20},{"t":1704,"v":45},{"t":1708,"v":53},{"t":1712,"v":30},{"t":1716,"v":15},{"t":1720,"v":40},{"t":1724,"v":47},{"t":1728,"v":25},{"t":1732,"v":8},{"t":1736,"v":30},{"t":1740,"v":38},{"t":1744,"v":20},{"t":1748,"v":10},{"t":1752,"v":30},{"t":1756,"v":32},{"t":1760,"v":15},{"t":1764,"v":8},{"t":1768,"v":20},{"t":1772,"v":25},{"t":1776,"v":12},{"t":1780,"v":6},{"t":1785,"v":18},{"t":1790,"v":10},{"t":1795,"v":4},{"t":1800,"v":14},{"t":1806,"v":8},{"t":1812,"v":3},{"t":1818,"v":12},{"t":1824,"v":6},{"t":1830,"v":2},{"t":1836,"v":10},{"t":1842,"v":5},{"t":1848,"v":2},{"t":1855,"v":8},{"t":1862,"v":3},{"t":1869,"v":10},{"t":1876,"v":5},{"t":1883,"v":2},{"t":1890,"v":8},{"t":1897,"v":3},{"t":1904,"v":6},{"t":1911,"v":2},{"t":1918,"v":5},{"t":1925,"v":1},{"t":1933,"v":6},{"t":1941,"v":2},{"t":1949,"v":5},{"t":1957,"v":1},{"t":1965,"v":4},{"t":1973,"v":8},{"t":1981,"v":12},{"t":1989,"v":6},{"t":1997,"v":10},{"t":2005,"v":4},{"t":2013,"v":8},{"t":2021,"v":3},{"t":2029,"v":7},{"t":2037,"v":2},{"t":2045,"v":8},{"t":2053,"v":3},{"t":2061,"v":6},{"t":2069,"v":2},{"t":2077,"v":7},{"t":2085,"v":2},{"t":2093,"v":5},{"t":2101,"v":1},{"t":2110,"v":6},{"t":2120,"v":2},{"t":2130,"v":5},{"t":2140,"v":1},{"t":2150,"v":5},{"t":2160,"v":2},{"t":2170,"v":4},{"t":2180,"v":1},{"t":2190,"v":3},{"t":2200,"v":1},{"t":2212,"v":3},{"t":2224,"v":1},{"t":2236,"v":2},{"t":2241,"v":1},{"t":2243,"v":30},{"t":2246,"v":46},{"t":2249,"v":35},{"t":2252,"v":25},{"t":2256,"v":50},{"t":2260,"v":30},{"t":2263,"v":20},{"t":2266,"v":51},{"t":2270,"v":25},{"t":2274,"v":38},{"t":2278,"v":15},{"t":2282,"v":34},{"t":2286,"v":22},{"t":2290,"v":10},{"t":2295,"v":19},{"t":2300,"v":12},{"t":2305,"v":18},{"t":2310,"v":8},{"t":2315,"v":14},{"t":2320,"v":6},{"t":2325,"v":15},{"t":2330,"v":7},{"t":2335,"v":12},{"t":2340,"v":5},{"t":2345,"v":10},{"t":2350,"v":4},{"t":2356,"v":12},{"t":2362,"v":5},{"t":2368,"v":9},{"t":2374,"v":3},{"t":2380,"v":13},{"t":2386,"v":6},{"t":2392,"v":9},{"t":2398,"v":2},{"t":2404,"v":7},{"t":2410,"v":3},{"t":2418,"v":6},{"t":2426,"v":2},{"t":2434,"v":6},{"t":2442,"v":2},{"t":2450,"v":5},{"t":2458,"v":1},{"t":2466,"v":6},{"t":2474,"v":2},{"t":2482,"v":5},{"t":2490,"v":1},{"t":2500,"v":4},{"t":2510,"v":2},{"t":2520,"v":5},{"t":2530,"v":1},{"t":2540,"v":4},{"t":2550,"v":2},{"t":2560,"v":4},{"t":2570,"v":1},{"t":2582,"v":3},{"t":2594,"v":1},{"t":2606,"v":4},{"t":2618,"v":1},{"t":2630,"v":3},{"t":2642,"v":1},{"t":2654,"v":3},{"t":2666,"v":1},{"t":2680,"v":3},{"t":2694,"v":1},{"t":2708,"v":3},{"t":2722,"v":1},{"t":2736,"v":2},{"t":2750,"v":1},{"t":2765,"v":2},{"t":2780,"v":1},{"t":2800,"v":2},{"t":2820,"v":1},{"t":2840,"v":2},{"t":2860,"v":1},{"t":2900,"v":1}],
"g7":[{"t":-50,"v":1},{"t":-20,"v":1},{"t":0,"v":1},{"t":8,"v":1},{"t":10,"v":30},{"t":13,"v":50},{"t":17,"v":40},{"t":21,"v":72},{"t":24,"v":30},{"t":27,"v":55},{"t":30,"v":20},{"t":33,"v":60},{"t":36,"v":40},{"t":39,"v":68},{"t":42,"v":20},{"t":45,"v":45},{"t":48,"v":49},{"t":51,"v":25},{"t":54,"v":40},{"t":57,"v":54},{"t":60,"v":30},{"t":63,"v":20},{"t":66,"v":38},{"t":70,"v":25},{"t":74,"v":30},{"t":78,"v":28},{"t":82,"v":22},{"t":86,"v":18},{"t":90,"v":26},{"t":94,"v":14},{"t":98,"v":24},{"t":102,"v":12},{"t":106,"v":20},{"t":110,"v":28},{"t":114,"v":15},{"t":118,"v":25},{"t":122,"v":10},{"t":126,"v":28},{"t":130,"v":15},{"t":134,"v":22},{"t":138,"v":10},{"t":142,"v":26},{"t":146,"v":12},{"t":150,"v":30},{"t":154,"v":43},{"t":158,"v":20},{"t":162,"v":8},{"t":166,"v":22},{"t":170,"v":15},{"t":174,"v":25},{"t":178,"v":10},{"t":182,"v":26},{"t":186,"v":12},{"t":190,"v":22},{"t":194,"v":18},{"t":198,"v":26},{"t":202,"v":14},{"t":206,"v":22},{"t":210,"v":4},{"t":213,"v":30},{"t":216,"v":60},{"t":219,"v":78},{"t":222,"v":40},{"t":225,"v":20},{"t":228,"v":55},{"t":231,"v":30},{"t":234,"v":50},{"t":237,"v":25},{"t":240,"v":64},{"t":243,"v":35},{"t":246,"v":50},{"t":249,"v":30},{"t":252,"v":61},{"t":255,"v":20},{"t":258,"v":58},{"t":261,"v":25},{"t":264,"v":45},{"t":267,"v":30},{"t":270,"v":35},{"t":273,"v":20},{"t":276,"v":40},{"t":280,"v":25},{"t":284,"v":45},{"t":288,"v":30},{"t":292,"v":35},{"t":296,"v":15},{"t":300,"v":30},{"t":304,"v":20},{"t":308,"v":46},{"t":312,"v":30},{"t":316,"v":15},{"t":320,"v":32},{"t":324,"v":12},{"t":328,"v":25},{"t":332,"v":10},{"t":336,"v":23},{"t":340,"v":8},{"t":344,"v":26},{"t":348,"v":12},{"t":352,"v":20},{"t":356,"v":8},{"t":360,"v":18},{"t":364,"v":6},{"t":368,"v":14},{"t":372,"v":5},{"t":376,"v":12},{"t":380,"v":4},{"t":386,"v":10},{"t":392,"v":2},{"t":398,"v":8},{"t":404,"v":1},{"t":410,"v":6},{"t":416,"v":3},{"t":422,"v":10},{"t":428,"v":5},{"t":434,"v":14},{"t":440,"v":8},{"t":446,"v":12},{"t":452,"v":6},{"t":458,"v":10},{"t":464,"v":4},{"t":470,"v":12},{"t":476,"v":6},{"t":482,"v":10},{"t":488,"v":5},{"t":494,"v":9},{"t":500,"v":4},{"t":508,"v":10},{"t":516,"v":5},{"t":524,"v":8},{"t":532,"v":3},{"t":540,"v":6},{"t":548,"v":2},{"t":556,"v":7},{"t":564,"v":3},{"t":572,"v":5},{"t":580,"v":2},{"t":590,"v":4},{"t":600,"v":1},{"t":610,"v":5},{"t":620,"v":1},{"t":630,"v":4},{"t":640,"v":2},{"t":650,"v":6},{"t":660,"v":2},{"t":670,"v":3},{"t":680,"v":1},{"t":690,"v":2},{"t":700,"v":1},{"t":710,"v":2},{"t":720,"v":1},{"t":768,"v":1},{"t":772,"v":45},{"t":775,"v":84},{"t":778,"v":55},{"t":781,"v":40},{"t":784,"v":75},{"t":787,"v":45},{"t":790,"v":30},{"t":793,"v":70},{"t":796,"v":50},{"t":799,"v":40},{"t":802,"v":78},{"t":805,"v":55},{"t":808,"v":45},{"t":811,"v":72},{"t":814,"v":50},{"t":817,"v":35},{"t":820,"v":67},{"t":823,"v":45},{"t":826,"v":35},{"t":829,"v":61},{"t":832,"v":40},{"t":835,"v":30},{"t":838,"v":55},{"t":841,"v":35},{"t":844,"v":25},{"t":848,"v":49},{"t":852,"v":30},{"t":856,"v":20},{"t":860,"v":41},{"t":864,"v":25},{"t":868,"v":15},{"t":872,"v":35},{"t":876,"v":20},{"t":880,"v":12},{"t":884,"v":29},{"t":888,"v":15},{"t":892,"v":10},{"t":896,"v":25},{"t":900,"v":12},{"t":904,"v":8},{"t":908,"v":25},{"t":912,"v":10},{"t":916,"v":6},{"t":920,"v":15},{"t":925,"v":5},{"t":930,"v":12},{"t":935,"v":3},{"t":940,"v":9},{"t":946,"v":4},{"t":952,"v":8},{"t":958,"v":3},{"t":964,"v":10},{"t":970,"v":4},{"t":976,"v":12},{"t":982,"v":5},{"t":988,"v":8},{"t":994,"v":3},{"t":1000,"v":10},{"t":1008,"v":4},{"t":1016,"v":12},{"t":1024,"v":6},{"t":1032,"v":10},{"t":1040,"v":4},{"t":1048,"v":9},{"t":1056,"v":3},{"t":1064,"v":8},{"t":1072,"v":2},{"t":1080,"v":6},{"t":1088,"v":2},{"t":1096,"v":5},{"t":1104,"v":1},{"t":1114,"v":4},{"t":1124,"v":2},{"t":1134,"v":6},{"t":1144,"v":2},{"t":1154,"v":5},{"t":1164,"v":1},{"t":1174,"v":4},{"t":1184,"v":1},{"t":1196,"v":3},{"t":1208,"v":1},{"t":1220,"v":2},{"t":1232,"v":1},{"t":1245,"v":2},{"t":1260,"v":1},{"t":1275,"v":2},{"t":1290,"v":1},{"t":1305,"v":2},{"t":1320,"v":1},{"t":1340,"v":2},{"t":1360,"v":1},{"t":1380,"v":2},{"t":1400,"v":1},{"t":1440,"v":2},{"t":1460,"v":1},{"t":1520,"v":1},{"t":1580,"v":1},{"t":1655,"v":1},{"t":1658,"v":30},{"t":1660,"v":50},{"t":1663,"v":83},{"t":1666,"v":40},{"t":1669,"v":25},{"t":1672,"v":43},{"t":1675,"v":30},{"t":1678,"v":20},{"t":1681,"v":45},{"t":1684,"v":28},{"t":1687,"v":18},{"t":1690,"v":40},{"t":1693,"v":50},{"t":1696,"v":58},{"t":1700,"v":45},{"t":1704,"v":35},{"t":1708,"v":20},{"t":1712,"v":40},{"t":1716,"v":25},{"t":1720,"v":15},{"t":1724,"v":43},{"t":1728,"v":30},{"t":1732,"v":18},{"t":1736,"v":35},{"t":1740,"v":20},{"t":1744,"v":10},{"t":1748,"v":29},{"t":1752,"v":18},{"t":1756,"v":8},{"t":1760,"v":26},{"t":1765,"v":15},{"t":1770,"v":6},{"t":1775,"v":20},{"t":1780,"v":12},{"t":1785,"v":5},{"t":1790,"v":17},{"t":1796,"v":10},{"t":1802,"v":4},{"t":1808,"v":12},{"t":1814,"v":6},{"t":1820,"v":3},{"t":1826,"v":10},{"t":1832,"v":5},{"t":1838,"v":2},{"t":1845,"v":8},{"t":1852,"v":4},{"t":1859,"v":8},{"t":1866,"v":3},{"t":1873,"v":6},{"t":1880,"v":2},{"t":1888,"v":6},{"t":1896,"v":2},{"t":1904,"v":5},{"t":1912,"v":1},{"t":1920,"v":4},{"t":1928,"v":2},{"t":1936,"v":5},{"t":1944,"v":1},{"t":1952,"v":4},{"t":1960,"v":2},{"t":1970,"v":4},{"t":1980,"v":1},{"t":1990,"v":3},{"t":2000,"v":1},{"t":2012,"v":3},{"t":2024,"v":1},{"t":2036,"v":2},{"t":2048,"v":1},{"t":2060,"v":2},{"t":2072,"v":1},{"t":2085,"v":2},{"t":2100,"v":1},{"t":2115,"v":2},{"t":2130,"v":1},{"t":2145,"v":2},{"t":2160,"v":1},{"t":2175,"v":2},{"t":2190,"v":1},{"t":2205,"v":2},{"t":2220,"v":1},{"t":2235,"v":2},{"t":2245,"v":1},{"t":2247,"v":25},{"t":2250,"v":45},{"t":2253,"v":70},{"t":2256,"v":40},{"t":2259,"v":25},{"t":2262,"v":50},{"t":2265,"v":40},{"t":2268,"v":55},{"t":2271,"v":30},{"t":2274,"v":20},{"t":2277,"v":45},{"t":2280,"v":61},{"t":2283,"v":35},{"t":2286,"v":20},{"t":2289,"v":50},{"t":2292,"v":59},{"t":2295,"v":30},{"t":2298,"v":15},{"t":2301,"v":35},{"t":2304,"v":43},{"t":2307,"v":25},{"t":2310,"v":15},{"t":2314,"v":28},{"t":2318,"v":18},{"t":2322,"v":10},{"t":2326,"v":29},{"t":2330,"v":15},{"t":2334,"v":8},{"t":2338,"v":15},{"t":2342,"v":10},{"t":2346,"v":13},{"t":2350,"v":15},{"t":2354,"v":12},{"t":2358,"v":8},{"t":2362,"v":15},{"t":2366,"v":13},{"t":2370,"v":6},{"t":2374,"v":14},{"t":2378,"v":5},{"t":2382,"v":15},{"t":2386,"v":3},{"t":2390,"v":6},{"t":2395,"v":10},{"t":2400,"v":4},{"t":2405,"v":3},{"t":2410,"v":8},{"t":2416,"v":4},{"t":2422,"v":6},{"t":2428,"v":3},{"t":2434,"v":7},{"t":2440,"v":2},{"t":2447,"v":6},{"t":2454,"v":3},{"t":2461,"v":7},{"t":2468,"v":2},{"t":2475,"v":5},{"t":2482,"v":2},{"t":2490,"v":6},{"t":2498,"v":2},{"t":2506,"v":5},{"t":2514,"v":2},{"t":2522,"v":4},{"t":2530,"v":1},{"t":2540,"v":4},{"t":2550,"v":2},{"t":2560,"v":4},{"t":2570,"v":1},{"t":2580,"v":3},{"t":2590,"v":2},{"t":2600,"v":3},{"t":2612,"v":1},{"t":2624,"v":3},{"t":2636,"v":1},{"t":2648,"v":2},{"t":2660,"v":1},{"t":2675,"v":2},{"t":2690,"v":1},{"t":2710,"v":2},{"t":2730,"v":1},{"t":2780,"v":1},{"t":2840,"v":1},{"t":2900,"v":1}]
},
"config":{
"font":"Liberation Sans",
"view":{"fill":"#c0c0c0","stroke":"#808080","strokeWidth":1},
"axis":{"domainColor":"#000000","tickColor":"#000000","labelColor":"#000000","titleColor":"#000000","labelFont":"Liberation Sans","titleFont":"Liberation Sans","labelFontSize":22,"titleFontSize":23.5,"titleFontWeight":"bold","tickSize":5,"domainWidth":1,"tickWidth":1,"labelOverlap":false,"tickCount":12},
"axisX":{"grid":false,"labelPadding":21,"titlePadding":19,"labelFlush":false,"labelExpr":"'' + datum.value"},
"axisY":{"grid":true,"gridColor":"#808080","gridOpacity":1,"gridWidth":1,"labelPadding":1,"titlePadding":15,"titleLineHeight":31},
"title":{"font":"Liberation Sans","fontSize":24.5,"fontWeight":"bold","color":"#000000","anchor":"middle","frame":"group","dx":-46,"offset":20},
"concat":{"spacing":60.5},
"line":{"color":"#000080","strokeWidth":1.6,"clip":true},
"text":{"font":"Liberation Sans","fontSize":22,"color":"#000000","baseline":"middle","align":"center"},
"rule":{"color":"#4a4a4a","strokeWidth":1}
},
"vconcat":[
{"title":"Geophone G3 - Magnitude of Resultant Velocity","width":840,"height":115,
"layer":[
{"data":{"values":[{"t":0}]},"mark":"rule","encoding":{"x":{"field":"t","type":"quantitative","scale":{"domain":[-50,2900],"nice":false,"zero":false},"axis":{"values":[-50,450,950,1450,1950,2450],"title":"Time (ms)"}}}},
{"data":{"name":"g3"},"mark":"line","encoding":{"x":{"field":"t","type":"quantitative"},"y":{"field":"v","type":"quantitative","scale":{"domain":[0,100],"nice":false},"axis":{"values":[0,50,100],"title":["Particle Velocity","(mm/s)"]}}}},
{"data":{"values":[{"t":92,"v":85,"n":"1"},{"t":218,"v":63,"n":"2"},{"t":779,"v":74,"n":"3"},{"t":1692,"v":85,"n":"4"},{"t":2253,"v":72,"n":"5"}]},"mark":"text","encoding":{"x":{"field":"t","type":"quantitative"},"y":{"field":"v","type":"quantitative"},"text":{"field":"n"}}}
]},
{"title":"Geophone G4 - Magnitude of Resultant Velocity","width":840,"height":115,
"layer":[
{"data":{"values":[{"t":0}]},"mark":"rule","encoding":{"x":{"field":"t","type":"quantitative","scale":{"domain":[-50,2900],"nice":false,"zero":false},"axis":{"values":[-50,450,950,1450,1950,2450],"title":"Time (ms)"}}}},
{"data":{"name":"g4"},"mark":"line","encoding":{"x":{"field":"t","type":"quantitative"},"y":{"field":"v","type":"quantitative","scale":{"domain":[0,100],"nice":false},"axis":{"values":[0,50,100],"title":["Particle Velocity","(mm/s)"]}}}},
{"data":{"values":[{"t":70,"v":85,"n":"1"},{"t":235,"v":63,"n":"2"},{"t":819,"v":77,"n":"3"},{"t":1709,"v":74,"n":"4"},{"t":2286,"v":59,"n":"5"}]},"mark":"text","encoding":{"x":{"field":"t","type":"quantitative"},"y":{"field":"v","type":"quantitative"},"text":{"field":"n"}}}
]},
{"title":"Geophone G5 - Magnitude of Resultant Velocity","width":840,"height":115,
"layer":[
{"data":{"values":[{"t":0}]},"mark":"rule","encoding":{"x":{"field":"t","type":"quantitative","scale":{"domain":[-50,2900],"nice":false,"zero":false},"axis":{"values":[-50,450,950,1450,1950,2450],"title":"Time (ms)"}}}},
{"data":{"name":"g5"},"mark":"line","encoding":{"x":{"field":"t","type":"quantitative"},"y":{"field":"v","type":"quantitative","scale":{"domain":[0,150],"nice":false},"axis":{"values":[0,50,100,150],"title":["Particle Velocity","(mm/s)"]}}}},
{"data":{"values":[{"t":50,"v":138,"n":"1"},{"t":229,"v":115,"n":"2"},{"t":838,"v":123,"n":"3"},{"t":1665,"v":131,"n":"4"},{"t":2286,"v":113,"n":"5"}]},"mark":"text","encoding":{"x":{"field":"t","type":"quantitative"},"y":{"field":"v","type":"quantitative"},"text":{"field":"n"}}}
]},
{"title":"Geophone G6 - Magnitude of Resultant Velocity","width":840,"height":115,
"layer":[
{"data":{"values":[{"t":0}]},"mark":"rule","encoding":{"x":{"field":"t","type":"quantitative","scale":{"domain":[-50,2900],"nice":false,"zero":false},"axis":{"values":[-50,450,950,1450,1950,2450],"title":"Time (ms)"}}}},
{"data":{"name":"g6"},"mark":"line","encoding":{"x":{"field":"t","type":"quantitative"},"y":{"field":"v","type":"quantitative","scale":{"domain":[0,150],"nice":false},"axis":{"values":[0,50,100,150],"title":["Particle Velocity","(mm/s)"]}}}},
{"data":{"values":[{"t":50,"v":119,"n":"1"},{"t":246,"v":78,"n":"2"},{"t":795,"v":117,"n":"3"},{"t":1698,"v":76,"n":"4"},{"t":2286,"v":75,"n":"5"}]},"mark":"text","encoding":{"x":{"field":"t","type":"quantitative"},"y":{"field":"v","type":"quantitative"},"text":{"field":"n"}}}
]},
{"title":"Geophone G7 - Magnitude of Resultant Velocity","width":849,"height":115,
"layer":[
{"data":{"values":[{"t":0}]},"mark":"rule","encoding":{"x":{"field":"t","type":"quantitative","scale":{"domain":[-50,2900],"nice":false,"zero":false},"axis":{"values":[-50,450,950,1450,1950,2450],"title":"Time (ms)"}}}},
{"data":{"name":"g7"},"mark":"line","encoding":{"x":{"field":"t","type":"quantitative"},"y":{"field":"v","type":"quantitative","scale":{"domain":[0,100],"nice":false},"axis":{"values":[0,50,100],"title":["Particle Velocity","(mm/s)"]}}}},
{"data":{"values":[{"t":48,"v":86,"n":"1"},{"t":252,"v":87,"n":"2"},{"t":830,"v":89,"n":"3"},{"t":1723,"v":87,"n":"4"},{"t":2290,"v":84,"n":"5"}]},"mark":"text","encoding":{"x":{"field":"t","type":"quantitative"},"y":{"field":"v","type":"quantitative"},"text":{"field":"n"}}}
]}
]
}
